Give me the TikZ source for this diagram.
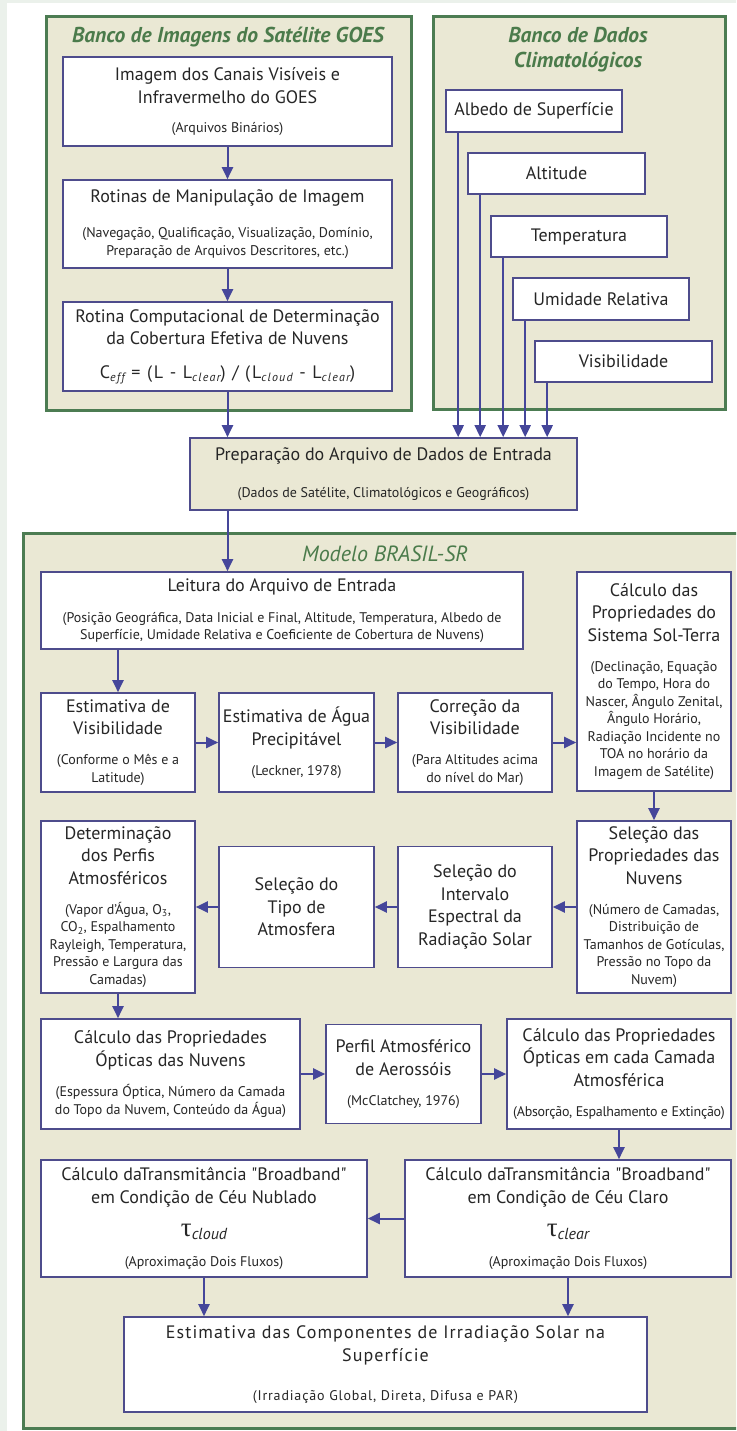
\documentclass[tikz,border=0pt]{standalone}
\usepackage{fontspec}
\setmainfont{PT Sans}
\newfontfamily\qf{PT Sans}[Ligatures=TeXOff]
\newfontfamily\grk{Liberation Serif}
\usetikzlibrary{arrows.meta}
\definecolor{framefill}{HTML}{EAE8D4}
\definecolor{framec}{HTML}{4C7C52}
\definecolor{titlec}{HTML}{4B7B4B}
\definecolor{boxc}{HTML}{4E4C8C}
\definecolor{arrc}{HTML}{45469A}
\definecolor{txtc}{HTML}{262626}
\definecolor{stripc}{HTML}{EBF1EB}
\newcommand\mnf{\fontsize{18}{22.5}\selectfont}
\newcommand\smf{\fontsize{14}{17.5}\selectfont}
\newcommand\sml[1]{{\smf #1}}
\newcommand\ttl{\fontsize{21.5}{25}\selectfont\bfseries\itshape}
\newcommand\fsub[1]{\raisebox{-2.5pt}{\fontsize{12}{12}\selectfont\itshape\addfontfeature{LetterSpace=10}#1}}
\newcommand\qq{{\qf"}}
\newcommand\tauit[1]{{\grk\fontsize{27}{27}\selectfont τ}\raisebox{-3pt}{\fontsize{16}{16}\selectfont\itshape #1}}
\begin{document}
\begin{tikzpicture}[x=1pt,y=-1pt,
  frame/.style={draw=framec, fill=framefill, line width=3pt, inner sep=0pt},
  titletext/.style={text=titlec, font=\ttl, align=center, inner sep=0pt},
  box/.style={draw=boxc, fill=white, line width=1.6pt, align=center, inner sep=0pt, font=\mnf, text=txtc},
  arr/.style={draw=arrc, line width=2pt, -{Triangle[length=12pt,width=11pt]}}]
\clip (0,0) rectangle (736,1431);
\fill[white] (0,0) rectangle (736,1431);
\fill[stripc] (0,0) rectangle (7,1431);
\fill[stripc] (0,0) rectangle (736,3);
% frames
\node[frame, minimum width=365pt, minimum height=393pt] (goesf) at (228.5,213.5) {};
\node[titletext] (goest) at (228,37) {Banco de Imagens do Satélite GOES};
\node[frame, minimum width=292pt, minimum height=392pt] (climf) at (579,213) {};
\node[titletext] (climt) at (578,50) {Banco de Dados\\Climatológicos};
\node[frame, minimum width=725pt, minimum height=895pt] (modf) at (385.5,980.5) {};
\node[titletext, font=\fontsize{22}{25}\selectfont\itshape] (modt) at (385,554) {Modelo BRASIL-SR};
% GOES boxes
\node[box, minimum width=329pt, minimum height=89pt] (g1) at (227.5,101.5)
  {Imagem dos Canais Visíveis e\\Infravermelho do GOES\\[6.5pt]\sml{(Arquivos Binários)}};
\node[box, minimum width=329pt, minimum height=88pt] (g2) at (227.5,224)
  {Rotinas de Manipulação de Imagem\\[13pt]\sml{(Navegação, Qualificação, Visualização, Domínio,}\\[-5pt]\sml{Preparação de Arquivos Descritores, etc.)}};
\node[box, minimum width=329pt, minimum height=89pt] (g3) at (227.5,346.5)
  {Rotina Computacional de Determinação\\da Cobertura Efetiva de Nuvens\\[11.5pt]{\addfontfeature{LetterSpace=10}C\fsub{eff} = (L - L\fsub{clear}) / (L\fsub{cloud} - L\fsub{clear})}};
% climatological boxes
\node[box, minimum width=176pt, minimum height=42pt] (alb) at (534,111) {Albedo de Superfície};
\node[box, minimum width=177pt, minimum height=41pt] (alt) at (556.5,173.5) {Altitude};
\node[box, minimum width=176pt, minimum height=41pt] (tem) at (579,236.5) {Temperatura};
\node[box, minimum width=176pt, minimum height=42pt] (umi) at (601,299) {Umidade Relativa};
\node[box, minimum width=177pt, minimum height=41pt] (vis) at (623.5,361.5) {Visibilidade};
% preparation
\node[box, fill=framefill, minimum width=387pt, minimum height=72pt] (prep) at (383.5,474)
  {Preparação do Arquivo de Dados de Entrada\\[14.5pt]\sml{(Dados de Satélite, Climatológicos e Geográficos)}};
% model boxes
\node[box, minimum width=482pt, minimum height=77pt] (lei) at (282,610.5)
  {Leitura do Arquivo de Entrada\\[8.5pt]\sml{(Posição Geográfica, Data Inicial e Final, Altitude, Temperatura, Albedo de}\\[-5pt]\sml{Superfície, Umidade Relativa e Coeficiente de Cobertura de Nuvens)}};
\node[box, minimum width=154pt, minimum height=219pt] (sol) at (654,681.5)
  {Cálculo das\\Propriedades do\\Sistema Sol-Terra\\[7.5pt]\sml{(Declinação, Equação}\\[-5pt]\sml{do Tempo, Hora do}\\[-5pt]\sml{Nascer, Ângulo Zenital,}\\[-5pt]\sml{Ângulo Horário,}\\[-5pt]\sml{Radiação Incidente no}\\[-5pt]\sml{TOA no horário da}\\[-5pt]\sml{Imagem de Satélite)}};
\node[box, minimum width=154pt, minimum height=99pt] (estv) at (118,742.5)
  {Estimativa de\\Visibilidade\\[7.5pt]\sml{(Conforme o Mês e a}\\[-5pt]\sml{Latitude)}};
\node[box, minimum width=155pt, minimum height=99pt] (agua) at (296.5,742.5)
  {Estimativa de Água\\Precipitável\\[7.5pt]\sml{(Leckner, 1978)}};
\node[box, minimum width=154pt, minimum height=99pt] (corr) at (475,742.5)
  {Correção da\\Visibilidade\\[7.5pt]\sml{(Para Altitudes acima}\\[-5pt]\sml{do nível do Mar)}};
\node[box, minimum width=154pt, minimum height=172pt] (det) at (118,907)
  {Determinação\\dos Perfis\\Atmosféricos\\[7.5pt]\sml{(Vapor d'Água, O\textsubscript{3},}\\[-5pt]\sml{CO\textsubscript{2}, Espalhamento}\\[-5pt]\sml{Rayleigh, Temperatura,}\\[-5pt]\sml{Pressão e Largura das}\\[-5pt]\sml{Camadas)}};
\node[box, minimum width=155pt, minimum height=121pt] (selt) at (296.5,907)
  {Seleção do\\Tipo de\\Atmosfera};
\node[box, minimum width=154pt, minimum height=121pt] (seli) at (475,907)
  {Seleção do\\Intervalo\\Espectral da\\Radiação Solar};
\node[box, minimum width=154pt, minimum height=172pt] (seln) at (654,907)
  {Seleção das\\Propriedades das\\Nuvens\\[7.5pt]\sml{(Número de Camadas,}\\[-5pt]\sml{Distribuição de}\\[-5pt]\sml{Tamanhos de Gotículas,}\\[-5pt]\sml{Pressão no Topo da}\\[-5pt]\sml{Nuvem)}};
\node[box, minimum width=259pt, minimum height=110pt] (cnuv) at (170.5,1074)
  {Cálculo das Propriedades\\Ópticas das Nuvens\\[8pt]\sml{(Espessura Óptica, Número da Camada}\\[-5pt]\sml{do Topo da Nuvem, Conteúdo da Água)}};
\node[box, minimum width=155pt, minimum height=99pt] (aer) at (403.5,1074)
  {Perfil Atmosférico\\de Aerossóis\\[7.5pt]\sml{(McClatchey, 1976)}};
\node[box, minimum width=224pt, minimum height=110pt] (cam) at (619,1074)
  {Cálculo das Propriedades\\Ópticas em cada Camada\\Atmosférica\\[7.5pt]\sml{\addfontfeature{LetterSpace=-2}(Absorção, Espalhamento e Extinção)}};
\node[box, minimum width=326pt, minimum height=117pt] (nub) at (204,1218.5)
  {Cálculo daTransmitância \qq Broadband\qq\\em Condição de Céu Nublado\\[10.5pt]\tauit{cloud}\\[7.5pt]\sml{(Aproximação Dois Fluxos)}};
\node[box, minimum width=326pt, minimum height=117pt] (cla) at (568,1218.5)
  {Cálculo daTransmitância \qq Broadband\qq\\em Condição de Céu Claro\\[10.5pt]\tauit{clear}\\[7.5pt]\sml{(Aproximação Dois Fluxos)}};
\node[box, minimum width=523pt, minimum height=95pt] (fin) at (385.5,1364.5)
  {\addfontfeature{LetterSpace=6}Estimativa das Componentes de Irradiação Solar na\\\addfontfeature{LetterSpace=6}Superfície\\[16.5pt]\sml{\addfontfeature{LetterSpace=6}(Irradiação Global, Direta, Difusa e PAR)}};
% connectors
\draw[arr] (g1.south) -- (g2.north);
\draw[arr] (g2.south) -- (g3.north);
\draw[arr] (g3.south) -- (g3.south |- prep.north);
\foreach \b in {alb,alt,tem,umi,vis}
  \draw[arr] ([xshift=13pt]\b.south west) -- ([xshift=13pt]\b.south west |- prep.north);
\draw[arr] (g3.south |- prep.south) -- (g3.south |- lei.north);
\draw[arr] (estv.north |- lei.south) -- (estv.north);
\draw[arr] (estv.east) -- (agua.west);
\draw[arr] (agua.east) -- (corr.west);
\draw[arr] (corr.east) -- (corr.east -| sol.west);
\draw[arr] (sol.south) -- (seln.north);
\draw[arr] (seln.west) -- (seli.east);
\draw[arr] (seli.west) -- (selt.east);
\draw[arr] (selt.west) -- (det.east);
\draw[arr] (det.south) -- (det.south |- cnuv.north);
\draw[arr] (cnuv.east) -- (aer.west);
\draw[arr] (aer.east) -- (cam.west);
\draw[arr] (cam.south) -- (cam.south |- cla.north);
\draw[arr] (cla.west) -- (nub.east);
\draw[arr] (nub.south) -- (nub.south |- fin.north);
\draw[arr] (cla.south) -- (cla.south |- fin.north);
\end{tikzpicture}
\end{document}
